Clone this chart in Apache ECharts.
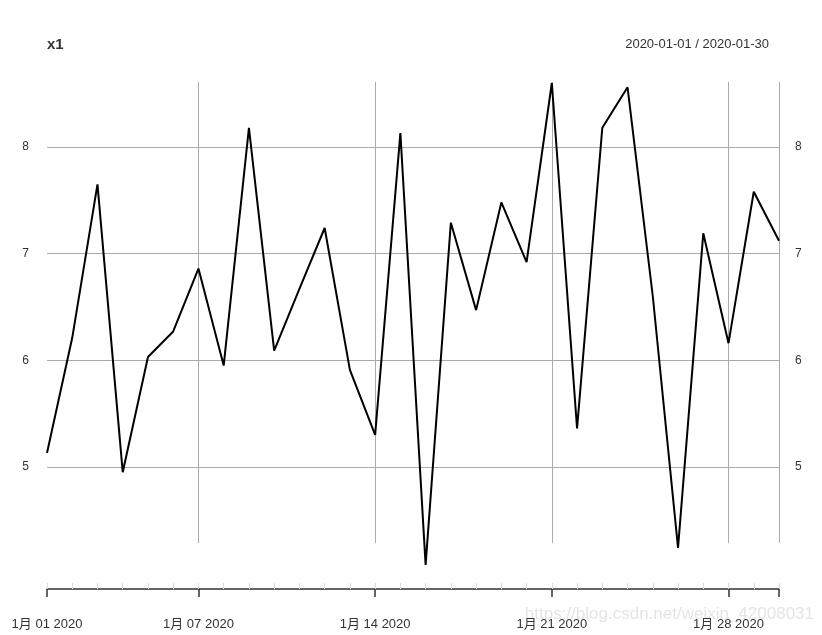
<!DOCTYPE html>
<html><head><meta charset="utf-8">
<script src="https://cdn.jsdelivr.net/npm/echarts@6/dist/echarts.min.js"></script>
<style>html,body{margin:0;padding:0;background:#fff}#c{width:822px;height:635px}</style>
</head><body><div id="c"></div>
<script>
const dates = ['2020-01-01','2020-01-02','2020-01-03','2020-01-04','2020-01-05','2020-01-06','2020-01-07','2020-01-08','2020-01-09','2020-01-10',
'2020-01-11','2020-01-12','2020-01-13','2020-01-14','2020-01-15','2020-01-16','2020-01-17','2020-01-18','2020-01-19','2020-01-20',
'2020-01-21','2020-01-22','2020-01-23','2020-01-24','2020-01-25','2020-01-26','2020-01-27','2020-01-28','2020-01-29','2020-01-30'];
const x1 = [5.13,6.21,7.65,4.95,6.03,6.27,6.86,5.95,8.18,6.09,
6.67,7.24,5.91,5.30,8.13,4.08,7.29,6.47,7.48,6.92,
8.60,5.36,8.18,8.56,6.60,4.24,7.19,6.16,7.58,7.12];
const yTicks = [5,6,7,8];
const labelIdx = [0,6,13,20,27];
const majorIdx = [0,6,13,20,27,29];
const vGridIdx = [6,13,20,27,29];
const titleText = 'x1';
const rangeText = '2020-01-01 / 2020-01-30';

function fmtDate(d){ const p=d.split('-'); return parseInt(p[1],10)+'月 '+p[2]+' '+p[0]; }
const font = 'Liberation Sans, Arial, Noto Sans CJK SC, sans-serif';
const L=47, R=43;
const chart = echarts.init(document.getElementById('c'));
chart.setOption({
  animation:false,
  backgroundColor:'#fff',
  title:[
    {text:titleText,left:42,top:32,textStyle:{fontFamily:font,fontSize:15,fontWeight:'bold',color:'#333'}},
    {text:rangeText,right:48,top:33,textStyle:{fontFamily:font,fontSize:13,fontWeight:'normal',color:'#333'}}
  ],
  graphic:[{type:'text',right:8,top:606,style:{text:'https://blog.csdn.net/weixin_42008031',fill:'rgba(210,210,210,0.6)',font:'17px '+font}}],
  grid:[
    {left:L,right:R,top:83,bottom:69},   // data
    {left:L,right:R,top:147,bottom:168}, // horizontal grid 5..8
    {left:L,right:R,top:82,bottom:92},   // vertical grid
    {left:L,right:R,top:560,bottom:46}   // bottom axis
  ],
  xAxis:[
    {gridIndex:0,type:'category',data:dates,boundaryGap:false,show:false},
    {gridIndex:1,type:'category',data:dates,boundaryGap:false,show:false},
    {gridIndex:2,type:'category',data:dates,boundaryGap:false,axisLine:{show:false},axisTick:{show:false},axisLabel:{show:false},
      splitLine:{show:true,interval:(i)=>vGridIdx.includes(i),lineStyle:{color:'#aaa',width:1}}},
    {gridIndex:3,type:'category',data:dates,boundaryGap:false,position:'bottom',
      axisLine:{show:true,lineStyle:{color:'#333',width:1.5}},
      axisTick:{show:true,interval:(i)=>majorIdx.includes(i),length:8,lineStyle:{color:'#333',width:1.5}},
      axisLabel:{show:true,interval:(i)=>labelIdx.includes(i),formatter:fmtDate,margin:29,fontFamily:font,fontSize:13,color:'#333'},
      splitLine:{show:false}},
    {gridIndex:3,type:'category',data:dates,boundaryGap:false,position:'bottom',
      axisLine:{show:false},
      axisTick:{show:true,inside:true,interval:0,length:6,lineStyle:{color:'#ddd',width:1}},
      axisLabel:{show:false},splitLine:{show:false}}
  ],
  yAxis:[
    {gridIndex:0,type:'value',min:4.07,max:8.60,show:false},
    {gridIndex:1,type:'value',min:yTicks[0],max:yTicks[yTicks.length-1],interval:1,position:'left',
      axisLine:{show:false},axisTick:{show:false},
      axisLabel:{show:true,margin:18,fontFamily:font,fontSize:12,color:'#333'},
      splitLine:{show:true,lineStyle:{color:'#aaa',width:1}}},
    {gridIndex:1,type:'value',min:yTicks[0],max:yTicks[yTicks.length-1],interval:1,position:'right',
      axisLine:{show:false},axisTick:{show:false},
      axisLabel:{show:true,margin:16,fontFamily:font,fontSize:12,color:'#333'},
      splitLine:{show:false}},
    {gridIndex:2,type:'value',show:false,min:0,max:1},
    {gridIndex:3,type:'value',show:false,min:0,max:1}
  ],
  series:[
    {type:'line',xAxisIndex:0,yAxisIndex:0,data:x1,symbol:'none',lineStyle:{color:'#000',width:2},z:5}
  ]
});
</script></body></html>
